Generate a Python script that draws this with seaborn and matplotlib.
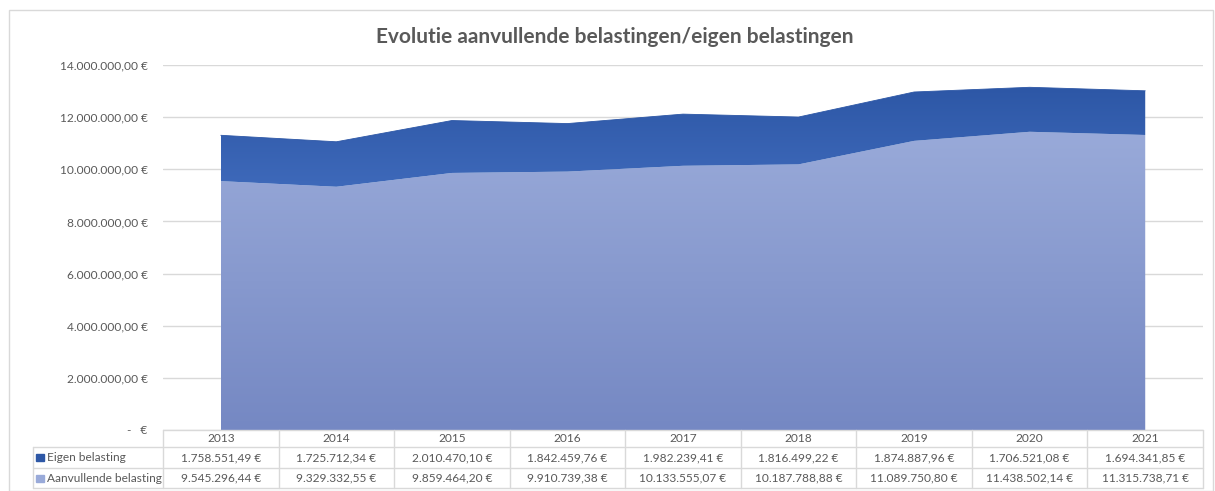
import numpy as np
import pandas as pd
import matplotlib.pyplot as plt
import seaborn as sns
from matplotlib.colors import LinearSegmentedColormap
from matplotlib.patches import Rectangle

years = [2013, 2014, 2015, 2016, 2017, 2018, 2019, 2020, 2021]
eigen = [1758551.49, 1725712.34, 2010470.10, 1842459.76, 1982239.41,
         1816499.22, 1874887.96, 1706521.08, 1694341.85]
aanvullend = [9545296.44, 9329332.55, 9859464.20, 9910739.38, 10133555.07,
              10187788.88, 11089750.80, 11438502.14, 11315738.71]
yticks = [0, 2e6, 4e6, 6e6, 8e6, 10e6, 12e6, 14e6]

LIGHT_TOP, LIGHT_BOT = "#99aad9", "#7588c3"
DARK_TOP, DARK_BOT = "#2d57a6", "#3e69ba"
GREY = "#595959"
LINE = "#d9d9d9"
FS = 8.6


def euro(v):
    if v == 0:
        return "-   €"
    s = f"{v:,.2f}"
    return s.replace(",", "X").replace(".", ",").replace("X", ".") + " €"


def gradient_fill(ax, x, y1, y2, top, bot):
    poly = ax.fill_between(x, y1, y2, color="none", lw=0)
    cmap = LinearSegmentedColormap.from_list("g", [bot, top])
    grad = np.linspace(0, 1, 256).reshape(-1, 1)
    lo = min(y1)
    im = ax.imshow(grad, cmap=cmap, aspect="auto", origin="lower",
                   extent=[x[0], x[-1], lo, max(y2)], zorder=2)
    path = poly.get_paths()[0]
    im.set_clip_path(path, transform=ax.transData)


sns.set_theme(style="white")
plt.rcParams["font.family"] = ["Lato", "DejaVu Sans"]

df = pd.DataFrame({"jaar": years, "Eigen belasting": eigen,
                   "Aanvullende belasting": aanvullend})
df["x"] = np.arange(len(df))
df["totaal"] = df["Eigen belasting"] + df["Aanvullende belasting"]

fig = plt.figure(figsize=(12.15, 4.91), dpi=100)
W, H = 1215, 491

# chart border
fig.add_artist(Rectangle((9 / W, 0), (1213 - 9) / W, (H - 10) / H,
                         transform=fig.transFigure, fill=False,
                         ec=LINE, lw=1))

ax = fig.add_axes([163 / W, 1 - 430 / H, (1203 - 163) / W, (430 - 65) / H])
x = df["x"].to_numpy(dtype=float)
gradient_fill(ax, x, np.zeros(len(x)), df["Aanvullende belasting"].to_numpy(),
              LIGHT_TOP, LIGHT_BOT)
gradient_fill(ax, x, df["Aanvullende belasting"].to_numpy(),
              df["totaal"].to_numpy(), DARK_TOP, DARK_BOT)
sns.lineplot(data=df, x="x", y="totaal", ax=ax, color=DARK_TOP, lw=0.6,
             zorder=3)

ax.set_xlim(-0.5, len(years) - 0.5)
ax.set_ylim(0, 14e6)
ax.set_yticks(yticks)
ax.set_yticklabels([euro(v) for v in yticks], color=GREY, fontsize=FS)
ax.tick_params(axis="y", length=0, pad=11)
ax.set_xticks([])
ax.set(xlabel="", ylabel="")
ax.grid(axis="y", color=LINE, lw=1)
ax.set_axisbelow(True)
for s in ax.spines.values():
    s.set_visible(False)

fig.text(615 / W, 1 - 37 / H,
         "Evolutie aanvullende belastingen/eigen belastingen",
         ha="center", va="center", fontsize=15, fontweight="bold", color=GREY)

# data table
x_left = -0.5 - 130 / ((1203 - 163) / len(years))
tab = fig.add_axes([33 / W, 1 - 488 / H, (1203 - 33) / W, (488 - 430) / H])
tab.set_xlim(x_left, len(years) - 0.5)
tab.set_ylim(58, 0)
tab.axis("off")
rows = [0, 17, 38, 58]
kw = dict(color=LINE, lw=1, clip_on=False)
tab.plot([-0.5, len(years) - 0.5], [rows[0], rows[0]], **kw)
for r in rows[1:]:
    tab.plot([x_left, len(years) - 0.5], [r, r], **kw)
tab.plot([x_left, x_left], [rows[1], rows[3]], **kw)
for i in range(len(years) + 1):
    tab.plot([i - 0.5, i - 0.5], [rows[0], rows[3]], **kw)

for i, yr in enumerate(years):
    tab.text(i, (rows[0] + rows[1]) / 2, str(yr), ha="center", va="center",
             fontsize=FS, color=GREY)
    tab.text(i, (rows[1] + rows[2]) / 2, euro(eigen[i]), ha="center",
             va="center", fontsize=FS, color=GREY)
    tab.text(i, (rows[2] + rows[3]) / 2, euro(aanvullend[i]), ha="center",
             va="center", fontsize=FS, color=GREY)

for (lab, col), (r0, r1) in zip(
        [("Eigen belasting", DARK_TOP), ("Aanvullende belasting", LIGHT_TOP)],
        [(rows[1], rows[2]), (rows[2], rows[3])]):
    yc = (r0 + r1) / 2
    tab.add_patch(Rectangle((x_left + 0.03, yc - 3.5), 0.065, 7, color=col,
                            clip_on=False))
    tab.text(x_left + 0.12, yc, lab, ha="left", va="center", fontsize=FS,
             color=GREY)

fig.savefig("out.png", dpi=100)
